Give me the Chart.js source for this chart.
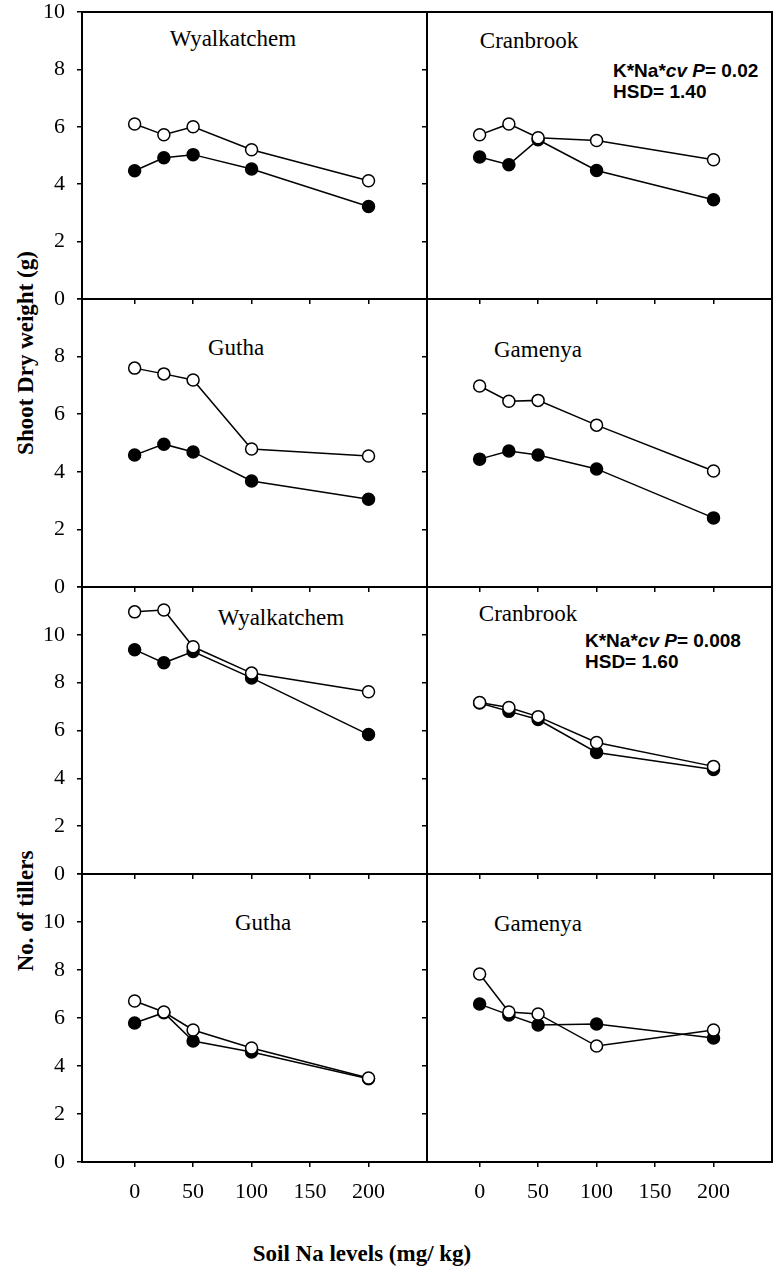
<!DOCTYPE html>
<html>
<head>
<meta charset="utf-8">
<script src="https://cdn.jsdelivr.net/npm/chart.js@4.4.0/dist/chart.umd.min.js"></script>
<style>
  body { margin: 0; background: #fff; }
  #wrap { position: relative; width: 777px; height: 1269px; overflow: hidden; font-family: 'Liberation Serif', 'Times New Roman', serif; color: #000; }
  canvas { position: absolute; }
  .lbl { position: absolute; transform: translate(-50%, -50%); white-space: nowrap; line-height: 1; font-size: 23px; }
  .stat { position: absolute; font-family: 'Liberation Sans', Arial, sans-serif; font-weight: bold; font-size: 19px; line-height: 21px; white-space: nowrap; }
  .ytitle { position: absolute; transform: translate(-50%, -50%) rotate(-90deg); font-weight: bold; font-size: 23px; white-space: nowrap; line-height: 1; }
  .xtitle { position: absolute; transform: translate(-50%, -50%); font-weight: bold; font-size: 23px; white-space: nowrap; line-height: 1; }
</style>
</head>
<body>
<div id="wrap">
  <div class="lbl" style="left:233px; top:38px;">Wyalkatchem</div>
  <div class="lbl" style="left:529px; top:40px;">Cranbrook</div>
  <div class="stat" style="left:613px; top:60px;">K*Na*<i>cv P</i>= 0.02<br>HSD= 1.40</div>
  <div class="lbl" style="left:236px; top:347px;">Gutha</div>
  <div class="lbl" style="left:538px; top:349px;">Gamenya</div>
  <div class="lbl" style="left:281px; top:617px;">Wyalkatchem</div>
  <div class="lbl" style="left:528px; top:613px;">Cranbrook</div>
  <div class="stat" style="left:585px; top:630px;">K*Na*<i>cv P</i>= 0.008<br>HSD= 1.60</div>
  <div class="lbl" style="left:263px; top:922px;">Gutha</div>
  <div class="lbl" style="left:538px; top:923px;">Gamenya</div>
  <div class="ytitle" style="left:25px; top:353px;">Shoot Dry weight (g)</div>
  <div class="ytitle" style="left:25px; top:911px;">No. of tillers</div>
  <div class="xtitle" style="left:362px; top:1253px;">Soil Na levels (mg/ kg)</div>
</div>
<script>
// soil Na levels (mg/kg)
const naLevels = [0, 25, 50, 100, 200];
const xTicks = [0, 50, 100, 150, 200];
const shootTicks = [0, 2, 4, 6, 8, 10];
const tillerTicks = [0, 2, 4, 6, 8, 10, 12];

// shoot dry weight (g), open and filled symbols
const shootWyalkOpen = [6.1, 5.72, 6.0, 5.2, 4.12];
const shootWyalkFilled = [4.47, 4.92, 5.03, 4.53, 3.22];
const shootCranOpen = [5.72, 6.1, 5.62, 5.52, 4.85];
const shootCranFilled = [4.95, 4.68, 5.55, 4.48, 3.46];
const shootGuthaOpen = [7.6, 7.4, 7.19, 4.79, 4.55];
const shootGuthaFilled = [4.58, 4.96, 4.69, 3.68, 3.05];
const shootGamOpen = [6.98, 6.45, 6.48, 5.62, 4.03];
const shootGamFilled = [4.44, 4.72, 4.58, 4.1, 2.4];

// no. of tillers
const tillWyalkOpen = [10.96, 11.04, 9.5, 8.4, 7.62];
const tillWyalkFilled = [9.38, 8.83, 9.3, 8.2, 5.83];
const tillCranOpen = [7.17, 6.96, 6.58, 5.5, 4.5];
const tillCranFilled = [7.15, 6.8, 6.46, 5.08, 4.37];
const tillGuthaOpen = [6.71, 6.25, 5.5, 4.75, 3.5];
const tillGuthaFilled = [5.79, 6.22, 5.04, 4.58, 3.47];
const tillGamOpen = [7.83, 6.25, 6.17, 4.83, 5.5];
const tillGamFilled = [6.58, 6.13, 5.71, 5.75, 5.17];

const rowTop = [12, 299, 587, 874];
const rowBottom = [299, 587, 874, 1162];
const wrap = document.getElementById('wrap');

const framePlugin = {
  id: 'frame',
  afterDraw(chart) {
    const a = chart.chartArea;
    const ctx = chart.ctx;
    ctx.save();
    ctx.strokeStyle = '#000';
    ctx.lineWidth = 2;
    ctx.strokeRect(a.left, a.top, a.right - a.left, a.bottom - a.top);
    ctx.restore();
  }
};

function toPoints(vals) {
  return naLevels.map((x, i) => ({ x: x, y: vals[i] }));
}

// keep chart area fixed: no extra padding for label overflow
function noPad(s) {
  s.paddingTop = 0;
  s.paddingBottom = 0;
  s.paddingLeft = 0;
  s.paddingRight = 0;
}

function makePanel(col, row, open, filled, yMax, yTicks) {
  const padTop = 14;
  const xH = row === 3 ? 60 : 14;
  const left = col === 0 ? 0 : 390;
  const w = col === 0 ? 432 : 387;
  const yW = col === 0 ? 82 : 37;
  const h = padTop + (rowBottom[row] - rowTop[row]) + xH;

  const c = document.createElement('canvas');
  c.width = w;
  c.height = h;
  c.style.left = left + 'px';
  c.style.top = (rowTop[row] - padTop) + 'px';
  c.style.width = w + 'px';
  c.style.height = h + 'px';
  wrap.appendChild(c);

  const tickFont = { family: 'Liberation Serif', size: 22 };

  new Chart(c, {
    type: 'line',
    data: {
      datasets: [
        {
          data: toPoints(open),
          borderColor: '#000',
          borderWidth: 1.5,
          pointRadius: 6,
          pointBackgroundColor: '#fff',
          pointBorderColor: '#000',
          pointBorderWidth: 1.5
        },
        {
          data: toPoints(filled),
          borderColor: '#000',
          borderWidth: 1.5,
          pointRadius: 6,
          pointBackgroundColor: '#000',
          pointBorderColor: '#000',
          pointBorderWidth: 1.5
        }
      ]
    },
    options: {
      responsive: false,
      animation: false,
      devicePixelRatio: 1,
      events: [],
      layout: { autoPadding: false, padding: { top: padTop, right: 5, left: 0, bottom: 0 } },
      plugins: { legend: { display: false }, tooltip: { enabled: false } },
      scales: {
        x: {
          type: 'linear',
          min: -45,
          max: 250,
          afterBuildTicks: (s) => { s.ticks = xTicks.map(v => ({ value: v })); },
          afterFit: (s) => { s.height = xH; noPad(s); },
          grid: { drawOnChartArea: false, drawTicks: true, tickLength: 5, color: '#000', lineWidth: 1.5 },
          border: { display: false },
          ticks: { display: row === 3, color: '#000', font: tickFont, padding: 12, maxRotation: 0, autoSkip: false }
        },
        y: {
          min: 0,
          max: yMax,
          afterBuildTicks: (s) => { s.ticks = yTicks.map(v => ({ value: v })); },
          afterFit: (s) => { s.width = yW; noPad(s); },
          grid: { drawOnChartArea: false, drawTicks: true, tickLength: 5, color: '#000', lineWidth: 1.5 },
          border: { display: false },
          ticks: {
            display: col === 0,
            color: '#000',
            font: tickFont,
            padding: 12,
            autoSkip: false,
            callback: (v) => (v === yMax && row > 0) ? '' : v
          }
        }
      }
    },
    plugins: [framePlugin]
  });
}

makePanel(0, 0, shootWyalkOpen, shootWyalkFilled, 10, shootTicks);
makePanel(1, 0, shootCranOpen, shootCranFilled, 10, shootTicks);
makePanel(0, 1, shootGuthaOpen, shootGuthaFilled, 10, shootTicks);
makePanel(1, 1, shootGamOpen, shootGamFilled, 10, shootTicks);
makePanel(0, 2, tillWyalkOpen, tillWyalkFilled, 12, tillerTicks);
makePanel(1, 2, tillCranOpen, tillCranFilled, 12, tillerTicks);
makePanel(0, 3, tillGuthaOpen, tillGuthaFilled, 12, tillerTicks);
makePanel(1, 3, tillGamOpen, tillGamFilled, 12, tillerTicks);
</script>
</body>
</html>
